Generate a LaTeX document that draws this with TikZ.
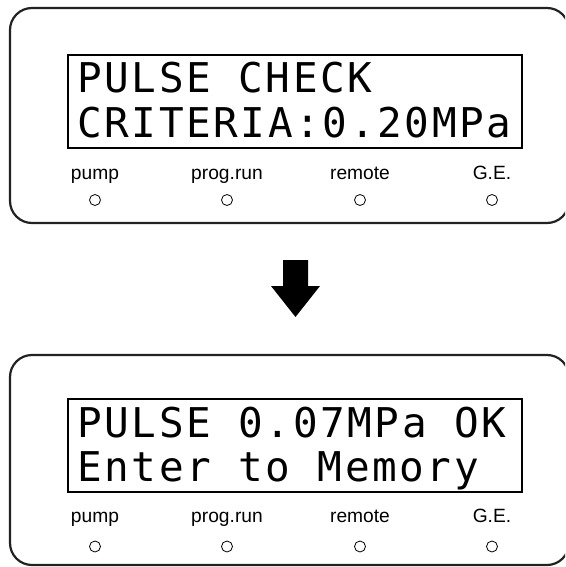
\documentclass[tikz,border=0pt]{standalone}
\usepackage{fontspec}
\setmainfont{Liberation Sans}
\newfontfamily\lcdfont[LetterSpace=6.4]{DejaVu Sans Mono}
\usetikzlibrary{positioning}
\definecolor{panelgray}{RGB}{34,34,34}

\tikzset{
  panel/.style={draw=panelgray,line width=2.2pt,rounded corners=22pt,
    minimum width=559pt,inner sep=0pt},
  lcdbox/.style={draw=black,line width=2.2pt,minimum width=454pt,
    minimum height=93pt,inner sep=0pt},
  lcdtext/.style={anchor=base west,inner sep=0pt,
    font=\fontsize{41}{41}\lcdfont},
  lamp/.style={circle,draw,line width=0.8pt,minimum size=11pt,inner sep=0pt},
  lamplabel/.style={anchor=base,inner sep=0pt,font=\fontsize{19.2}{19.2}\selectfont},
}

\begin{document}
\begin{tikzpicture}[x=1pt,y=-1pt]
  \useasboundingbox (0,0) rectangle (565,567);
  \clip (0,0) rectangle (565,567);
  % upper display
  \node[panel,minimum height=215pt] (topPanel) at (289.5,115.5) {};
  \node[lcdbox] (topLcd) at (295,101.5) {};
  \node[lcdtext] (topRowA) at (77,93) {PULSE CHECK};
  \node[lcdtext] (topRowB) at (77,137) {CRITERIA:0.20MPa};
  \foreach \x/\l/\n in {95/pump/a, 227/prog.run/b, 360/remote/c, 492/G.E./d}{
    \node[lamplabel] (topLabel\n) at (\x,179) {\l};
    \node[lamp] (topLamp\n) at (\x,200) {};
  }
  % arrow
  \fill (283,260) -- (308,260) -- (308,286) -- (320,286) -- (295.5,317)
    -- (271,286) -- (283,286) -- cycle;
  % lower display
  \node[panel,minimum height=210pt] (botPanel) at (289.5,460) {};
  \node[lcdbox] (botLcd) at (295,445.5) {};
  \node[lcdtext] (botRowA) at (77,437) {PULSE 0.07MPa OK};
  \node[lcdtext] (botRowB) at (77,481) {Enter to Memory};
  \foreach \x/\l/\n in {95/pump/a, 227/prog.run/b, 360/remote/c, 492/G.E./d}{
    \node[lamplabel] (botLabel\n) at (\x,522) {\l};
    \node[lamp] (botLamp\n) at (\x,546.5) {};
  }
\end{tikzpicture}
\end{document}
